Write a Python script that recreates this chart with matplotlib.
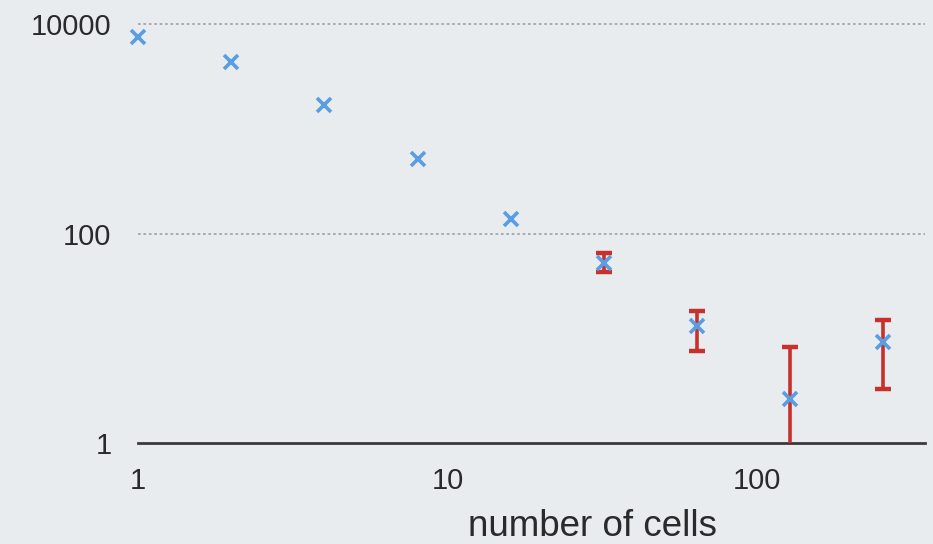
import matplotlib
matplotlib.use("Agg")
import matplotlib.pyplot as plt
import numpy as np

plt.rcParams['font.family'] = ['Liberation Sans', 'DejaVu Sans']

# data
cells = [1, 2, 4, 8, 16, 32, 64, 128, 256]
values = [7500, 4350, 1700, 515, 137, 52, 13.1, 2.63, 9.2]
err_x = [32, 64, 128, 256]
err_val = [52, 13.1, 2.63, 9.2]
err_low = [42.5, 7.5, 0.5, 3.3]
err_high = [65, 18.2, 8.2, 14.9]

x_ticks = [1, 10, 100]
x_tick_labels = ["1", "10", "100"]
y_ticks = [1, 100, 10000]
y_tick_labels = ["1", "100", "10000"]

W, H = 933, 544
fig = plt.figure(figsize=(W / 100, H / 100), dpi=100)
bg = '#e9ecef'
fig.patch.set_facecolor(bg)

# axes placement (pixels)
left_px, right_px = 138, 925
bottom_px = 443
top_px = 19.7
ax = fig.add_axes([left_px / W, 1 - bottom_px / H, (right_px - left_px) / W, (bottom_px - top_px) / H])
ax.set_facecolor(bg)
ax.set_xscale('log')
ax.set_yscale('log')
ax.set_xlim(1, 349)
ax.set_ylim(1, 1.1e4)

for yv in [100, 10000]:
    ax.axhline(yv, color='#a5a8ab', lw=1.3, ls=(0, (1.5, 1.5)), zorder=1)

yerr = np.array([np.array(err_val) - np.array(err_low), np.array(err_high) - np.array(err_val)])
ax.errorbar(err_x, err_val, yerr=yerr, fmt='none', ecolor='#c8302c', elinewidth=2.6,
            capsize=5.8, capthick=3.2, zorder=3)
ax.plot(cells, values, ls='none', marker='x', ms=9.5, mew=2.6, color='#5a9de3', zorder=4, clip_on=False)

for s in ['top', 'right', 'left']:
    ax.spines[s].set_visible(False)
ax.spines['bottom'].set_color('#3a3a3a')
ax.spines['bottom'].set_linewidth(2)

ax.set_xticks(x_ticks)
ax.set_xticklabels(x_tick_labels)
ax.set_yticks(y_ticks)
ax.set_yticklabels(y_tick_labels)
ax.minorticks_off()
ax.tick_params(axis='both', length=0, labelsize=21, colors='#2a2a2a')
ax.tick_params(axis='x', pad=17)
ax.tick_params(axis='y', pad=19)

fig.text(592 / W, 1 - 526 / H, "number of cells", ha='center', va='center', fontsize=26.5, color='#2a2a2a')

fig.savefig('out.png', dpi=100, facecolor=bg)
